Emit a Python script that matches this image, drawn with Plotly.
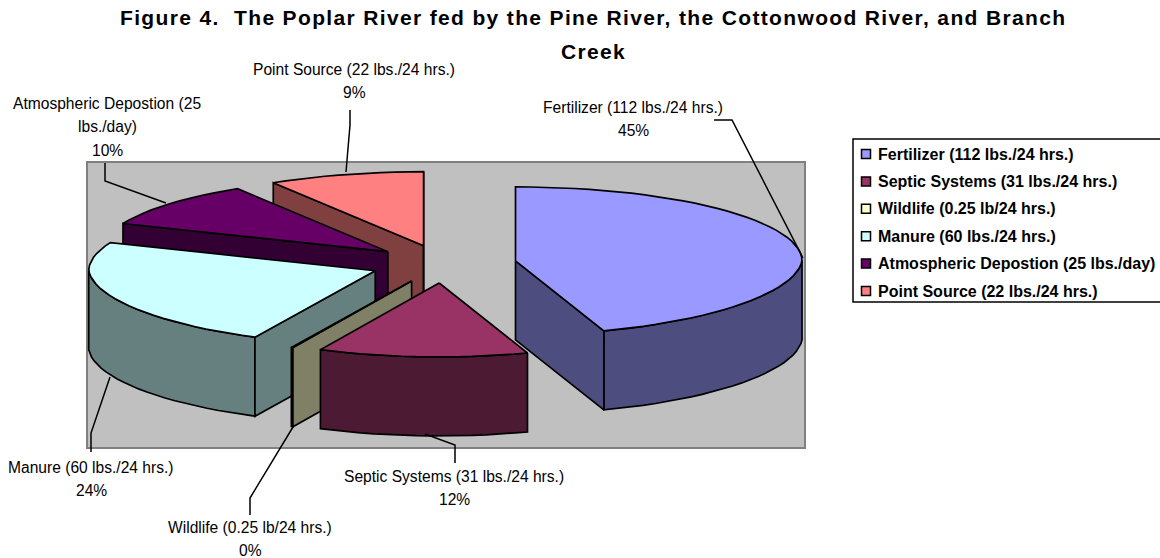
import math
import plotly.graph_objects as go

# --- data ---
series = ["Fertilizer (112 lbs./24 hrs.)", "Septic Systems (31 lbs./24 hrs.)", "Wildlife (0.25 lb/24 hrs.)",
          "Manure (60 lbs./24 hrs.)", "Atmospheric Depostion (25 lbs./day)", "Point Source (22 lbs./24 hrs.)"]
values = [112, 31, 0.25, 60, 25, 22]
top_colors = ["#9999FF", "#993366", "#FFFFCC", "#CCFFFF", "#660066", "#FF8080"]
side_colors = ["#4D4D80", "#4D1A33", "#808066", "#668080", "#330033", "#804040"]
title_line1 = "Figure 4.  The Poplar River fed by the Pine River, the Cottonwood River, and Branch"
title_line2 = "Creek"

# --- label layout: wrapped label lines, centre x, first-line y, line step ---
label_lines = [["Fertilizer (112 lbs./24 hrs.)"], ["Septic Systems (31 lbs./24 hrs.)"], ["Wildlife (0.25 lb/24 hrs.)"],
               ["Manure (60 lbs./24 hrs.)"], ["Atmospheric Depostion (25", "lbs./day)"], ["Point Source (22 lbs./24 hrs.)"]]
label_x = [633, 454, 250, 91, 107, 354]
label_y = [107, 476, 527, 467, 103, 69]
label_step = 23.5
leaders = [[(714, 120), (732, 120), (803, 258)],
           [(425, 434), (455, 445), (455, 463)],
           [(293, 427), (250, 498), (250, 515)],
           [(110, 377), (91, 433), (91, 452)],
           [(105, 163), (105, 181), (166, 203)],
           [(350, 110), (350, 125), (346, 172)]]

# --- pie projection ---
W, H = 1160, 558
CX, CY = 443.5, 264
RX, RY = 286.5, 74
FRONT_SQUEEZE = 0.05
DEPTH = 79
EXPLODE_X, EXPLODE_Y = 73, 19
FONT = "Liberation Sans, Arial, sans-serif"
LINE = dict(color="black", width=1.7)

total = sum(values)
fig = go.Figure()


def face(xs, ys, color, name):
    fig.add_trace(go.Scatter(x=xs, y=ys, mode="lines", fill="toself", fillcolor=color, line=LINE,
                             name=name, hoverinfo="name", showlegend=False))


def rim(ax, ay, deg):
    t = math.radians(deg)
    c = math.cos(t)
    return ax + RX * math.sin(t) * (1 - FRONT_SQUEEZE * max(0.0, -c)), ay - RY * c


def arc(ax, ay, a0, a1, dy=0.0):
    n = max(2, int(abs(a1 - a0) / 3) + 1)
    pts = [rim(ax, ay, a0 + (a1 - a0) * i / n) for i in range(n + 1)]
    return [p[0] for p in pts], [p[1] + dy for p in pts]


# wedge angles, clockwise from 12 o'clock
starts = []
acc = 0.0
for v in values:
    starts.append(acc)
    acc += v / total * 360

# painter's order: back to front
for i in [5, 4, 3, 2, 1, 0]:
    a0, a1 = starts[i], starts[i] + values[i] / total * 360
    mid = math.radians((a0 + a1) / 2)
    ax = CX + EXPLODE_X * math.sin(mid)
    ay = CY - EXPLODE_Y * math.cos(mid)
    # outer wall: portion of the rim facing the viewer
    f0, f1 = max(a0, 90), min(a1, 270)
    if f1 > f0:
        tx, ty = arc(ax, ay, f0, f1)
        bx, by = arc(ax, ay, f0, f1, DEPTH)
        face(tx + bx[::-1] + tx[:1], ty + by[::-1] + ty[:1], side_colors[i], series[i])
    # radial walls facing the viewer
    for ang, visible in ((a0, math.sin(math.radians(a0)) < 0), (a1, math.sin(math.radians(a1)) > 0)):
        if visible:
            rx, ry = rim(ax, ay, ang)
            face([ax, rx, rx, ax, ax], [ay, ry, ry + DEPTH, ay + DEPTH, ay], side_colors[i], series[i])
    # top face
    tx, ty = arc(ax, ay, a0, a1)
    face([ax] + tx + [ax], [ay] + ty + [ay], top_colors[i], series[i])

# leader lines
for pts in leaders:
    fig.add_trace(go.Scatter(x=[p[0] for p in pts], y=[p[1] for p in pts], mode="lines",
                             line=dict(color="black", width=1.5), hoverinfo="skip", showlegend=False))

annotations = []


def note(x, y, text, size=15.6, bold=False, anchor="center"):
    annotations.append(dict(x=x, y=y, xref="x", yref="y", text=text, showarrow=False, xanchor=anchor,
                            yanchor="middle", xshift=-1 if anchor == "left" else 0,
                            font=dict(family=FONT, size=size, color="black",
                                      weight="bold" if bold else "normal")))


# data labels
for i, lines in enumerate(label_lines):
    pct = "%d%%" % round(values[i] / total * 100)
    for k, t in enumerate(lines + [pct]):
        note(label_x[i], label_y[i] + k * label_step, t)

# title
SP = "<span style='letter-spacing:1.35px'>%s</span>"
note(593, 17, SP % title_line1.replace("  ", "\u00a0 "), size=21, bold=True)
note(593, 51, SP % title_line2, size=21, bold=True)

# legend rows
LEG_X, LEG_TEXT_X, LEG_Y0, LEG_STEP = 866, 876.5, 154, 27.4
legend_y = [LEG_Y0 + k * LEG_STEP for k in range(len(series))]
fig.add_trace(go.Scatter(
    x=[LEG_X] * len(series), y=legend_y, mode="markers", text=series,
    marker=dict(symbol="square", size=9, color=top_colors, line=dict(color="black", width=1.5)),
    hoverinfo="text", showlegend=False))
for name, y in zip(series, legend_y):
    note(LEG_TEXT_X, y, name, size=16, bold=True, anchor="left")

fig.update_layout(
    width=W, height=H, margin=dict(l=0, r=0, t=0, b=0), autosize=False, showlegend=False,
    paper_bgcolor="white", plot_bgcolor="white",
    xaxis=dict(range=[0, W], visible=False, fixedrange=True),
    yaxis=dict(range=[H, 0], visible=False, fixedrange=True),
    annotations=annotations,
    shapes=[
        dict(type="rect", xref="x", yref="y", x0=87, x1=805, y0=162, y1=448, layer="below",
             fillcolor="#C0C0C0", line=dict(color="#808080", width=2)),
        dict(type="rect", xref="x", yref="y", x0=853, x1=1170, y0=139, y1=302, layer="below",
             fillcolor="white", line=dict(color="black", width=1.5)),
    ],
)
fig.write_html("out.html", config=dict(displayModeBar=False),
               post_script="document.body.style.margin='0';document.documentElement.style.overflow='hidden';")
